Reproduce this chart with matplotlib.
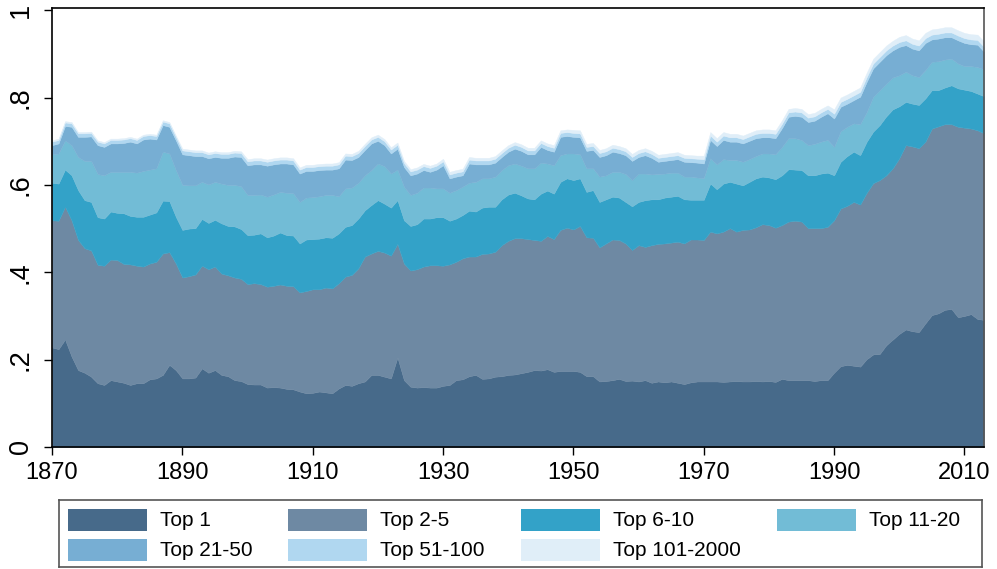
import numpy as np
import matplotlib
matplotlib.use("Agg")
from matplotlib import pyplot as plt
from matplotlib.patches import Rectangle

plt.rcParams['font.family'] = ['Liberation Sans', 'DejaVu Sans']

years = np.arange(1870, 2014)

# cumulative shares (top N)
top1 = [
    0.228, 0.224, 0.246, 0.207, 0.176, 0.170, 0.161, 0.146, 0.142, 0.153,
    0.150, 0.147, 0.142, 0.146, 0.146, 0.155, 0.157, 0.165, 0.188, 0.176,
    0.157, 0.157, 0.159, 0.180, 0.170, 0.176, 0.165, 0.162, 0.153, 0.151,
    0.144, 0.143, 0.143, 0.136, 0.137, 0.136, 0.133, 0.132, 0.127, 0.123,
    0.124, 0.127, 0.125, 0.123, 0.134, 0.142, 0.140, 0.146, 0.150, 0.165,
    0.165, 0.161, 0.157, 0.205, 0.153, 0.138, 0.136, 0.137, 0.136, 0.136,
    0.140, 0.142, 0.153, 0.155, 0.162, 0.165, 0.156, 0.157, 0.161, 0.162,
    0.165, 0.166, 0.169, 0.172, 0.176, 0.175, 0.178, 0.172, 0.174, 0.174,
    0.174, 0.172, 0.162, 0.162, 0.150, 0.151, 0.153, 0.156, 0.151, 0.152,
    0.150, 0.153, 0.147, 0.150, 0.148, 0.150, 0.147, 0.144, 0.148, 0.150,
    0.150, 0.150, 0.150, 0.149, 0.150, 0.151, 0.150, 0.150, 0.151, 0.150,
    0.151, 0.149, 0.156, 0.153, 0.153, 0.153, 0.153, 0.151, 0.153, 0.153,
    0.170, 0.185, 0.188, 0.186, 0.184, 0.201, 0.212, 0.213, 0.233, 0.246,
    0.259, 0.269, 0.265, 0.263, 0.283, 0.302, 0.306, 0.314, 0.316, 0.297,
    0.300, 0.304, 0.293, 0.291]

top5 = [
    0.519, 0.518, 0.550, 0.519, 0.474, 0.455, 0.450, 0.417, 0.415, 0.429,
    0.428, 0.419, 0.418, 0.415, 0.413, 0.420, 0.424, 0.443, 0.446, 0.420,
    0.388, 0.391, 0.395, 0.415, 0.407, 0.413, 0.397, 0.393, 0.388, 0.385,
    0.373, 0.375, 0.373, 0.367, 0.369, 0.372, 0.369, 0.368, 0.354, 0.357,
    0.361, 0.361, 0.365, 0.363, 0.375, 0.390, 0.394, 0.409, 0.436, 0.443,
    0.449, 0.445, 0.438, 0.465, 0.420, 0.404, 0.407, 0.413, 0.416, 0.416,
    0.415, 0.418, 0.424, 0.432, 0.436, 0.436, 0.442, 0.443, 0.447, 0.462,
    0.472, 0.478, 0.478, 0.476, 0.474, 0.472, 0.483, 0.476, 0.497, 0.502,
    0.498, 0.506, 0.480, 0.479, 0.457, 0.466, 0.475, 0.474, 0.466, 0.451,
    0.462, 0.458, 0.462, 0.465, 0.466, 0.468, 0.470, 0.466, 0.475, 0.475,
    0.474, 0.493, 0.489, 0.493, 0.501, 0.493, 0.497, 0.498, 0.503, 0.510,
    0.508, 0.502, 0.508, 0.516, 0.518, 0.516, 0.501, 0.501, 0.501, 0.504,
    0.519, 0.546, 0.552, 0.561, 0.555, 0.582, 0.604, 0.611, 0.622, 0.638,
    0.661, 0.691, 0.688, 0.684, 0.699, 0.729, 0.734, 0.739, 0.739, 0.733,
    0.731, 0.729, 0.725, 0.718]

top10 = [
    0.605, 0.603, 0.635, 0.622, 0.588, 0.565, 0.561, 0.526, 0.523, 0.539,
    0.536, 0.535, 0.529, 0.527, 0.527, 0.532, 0.537, 0.564, 0.563, 0.527,
    0.497, 0.500, 0.501, 0.522, 0.513, 0.520, 0.512, 0.506, 0.505, 0.499,
    0.485, 0.486, 0.489, 0.480, 0.484, 0.491, 0.485, 0.484, 0.466, 0.475,
    0.476, 0.477, 0.480, 0.479, 0.489, 0.504, 0.508, 0.523, 0.542, 0.554,
    0.565, 0.557, 0.548, 0.565, 0.519, 0.506, 0.510, 0.523, 0.523, 0.526,
    0.526, 0.518, 0.523, 0.531, 0.541, 0.539, 0.548, 0.550, 0.550, 0.567,
    0.578, 0.582, 0.576, 0.569, 0.567, 0.580, 0.587, 0.580, 0.607, 0.615,
    0.611, 0.615, 0.584, 0.588, 0.561, 0.567, 0.573, 0.571, 0.561, 0.551,
    0.561, 0.565, 0.567, 0.567, 0.571, 0.573, 0.575, 0.567, 0.566, 0.566,
    0.566, 0.603, 0.590, 0.603, 0.607, 0.603, 0.599, 0.607, 0.615, 0.619,
    0.617, 0.613, 0.622, 0.636, 0.635, 0.634, 0.622, 0.622, 0.626, 0.628,
    0.622, 0.653, 0.666, 0.676, 0.668, 0.699, 0.722, 0.737, 0.757, 0.773,
    0.780, 0.790, 0.786, 0.783, 0.798, 0.817, 0.817, 0.823, 0.828, 0.821,
    0.818, 0.815, 0.809, 0.803]

top20 = [
    0.670, 0.672, 0.702, 0.691, 0.664, 0.655, 0.655, 0.625, 0.622, 0.630,
    0.630, 0.630, 0.630, 0.628, 0.632, 0.635, 0.638, 0.676, 0.672, 0.634,
    0.600, 0.599, 0.599, 0.607, 0.601, 0.607, 0.603, 0.600, 0.600, 0.597,
    0.577, 0.577, 0.578, 0.573, 0.578, 0.584, 0.582, 0.581, 0.561, 0.571,
    0.572, 0.574, 0.577, 0.577, 0.574, 0.592, 0.594, 0.605, 0.622, 0.634,
    0.649, 0.643, 0.626, 0.635, 0.596, 0.577, 0.582, 0.594, 0.594, 0.592,
    0.592, 0.582, 0.588, 0.596, 0.605, 0.607, 0.615, 0.615, 0.619, 0.634,
    0.645, 0.649, 0.644, 0.638, 0.638, 0.651, 0.649, 0.645, 0.668, 0.672,
    0.672, 0.670, 0.638, 0.638, 0.619, 0.622, 0.630, 0.630, 0.625, 0.611,
    0.626, 0.626, 0.624, 0.625, 0.626, 0.628, 0.628, 0.619, 0.619, 0.617,
    0.616, 0.661, 0.647, 0.659, 0.657, 0.657, 0.653, 0.659, 0.666, 0.672,
    0.672, 0.670, 0.687, 0.707, 0.707, 0.703, 0.691, 0.694, 0.699, 0.703,
    0.687, 0.723, 0.733, 0.741, 0.739, 0.767, 0.802, 0.817, 0.832, 0.846,
    0.851, 0.859, 0.851, 0.847, 0.863, 0.882, 0.883, 0.887, 0.889, 0.878,
    0.872, 0.872, 0.870, 0.864]

top50 = [
    0.691, 0.695, 0.735, 0.733, 0.710, 0.710, 0.711, 0.691, 0.687, 0.695,
    0.695, 0.696, 0.699, 0.695, 0.704, 0.706, 0.704, 0.737, 0.733, 0.702,
    0.670, 0.668, 0.666, 0.666, 0.661, 0.664, 0.662, 0.662, 0.665, 0.664,
    0.645, 0.647, 0.647, 0.644, 0.647, 0.649, 0.649, 0.647, 0.626, 0.632,
    0.632, 0.634, 0.635, 0.635, 0.638, 0.658, 0.657, 0.664, 0.680, 0.695,
    0.701, 0.691, 0.672, 0.683, 0.641, 0.622, 0.626, 0.634, 0.630, 0.635,
    0.645, 0.615, 0.619, 0.622, 0.649, 0.647, 0.647, 0.647, 0.651, 0.664,
    0.676, 0.683, 0.678, 0.670, 0.670, 0.687, 0.680, 0.676, 0.710, 0.712,
    0.710, 0.709, 0.678, 0.680, 0.664, 0.668, 0.676, 0.673, 0.668, 0.655,
    0.664, 0.668, 0.662, 0.653, 0.655, 0.657, 0.659, 0.653, 0.652, 0.651,
    0.649, 0.703, 0.689, 0.703, 0.699, 0.699, 0.695, 0.701, 0.707, 0.709,
    0.709, 0.707, 0.730, 0.756, 0.758, 0.756, 0.744, 0.747, 0.756, 0.764,
    0.752, 0.779, 0.786, 0.794, 0.802, 0.836, 0.867, 0.882, 0.897, 0.908,
    0.916, 0.920, 0.912, 0.908, 0.925, 0.933, 0.935, 0.938, 0.938, 0.931,
    0.925, 0.922, 0.921, 0.905]

# thin top layers (shares of groups 51-100 and 101-2000)
share_51_100 = [
    0.008, 0.008, 0.008, 0.008, 0.008, 0.008, 0.008, 0.008, 0.008, 0.008,
    0.008, 0.008, 0.008, 0.008, 0.008, 0.008, 0.008, 0.008, 0.008, 0.008,
    0.009, 0.009, 0.009, 0.009, 0.009, 0.009, 0.009, 0.009, 0.009, 0.009,
    0.009, 0.009, 0.009, 0.009, 0.009, 0.009, 0.009, 0.009, 0.009, 0.009,
    0.009, 0.009, 0.009, 0.009, 0.009, 0.009, 0.009, 0.009, 0.009, 0.009,
    0.009, 0.009, 0.009, 0.009, 0.009, 0.009, 0.009, 0.009, 0.009, 0.009,
    0.009, 0.009, 0.009, 0.009, 0.009, 0.009, 0.009, 0.009, 0.009, 0.009,
    0.009, 0.009, 0.009, 0.009, 0.009, 0.009, 0.009, 0.009, 0.009, 0.009,
    0.009, 0.009, 0.009, 0.009, 0.009, 0.009, 0.009, 0.009, 0.009, 0.009,
    0.009, 0.009, 0.009, 0.009, 0.009, 0.009, 0.009, 0.009, 0.009, 0.009,
    0.010, 0.010, 0.010, 0.010, 0.010, 0.010, 0.010, 0.010, 0.010, 0.010,
    0.010, 0.010, 0.010, 0.010, 0.010, 0.010, 0.010, 0.010, 0.010, 0.010,
    0.011, 0.011, 0.011, 0.011, 0.011, 0.011, 0.011, 0.011, 0.011, 0.011,
    0.011, 0.011, 0.011, 0.011, 0.011, 0.011, 0.011, 0.011, 0.011, 0.011,
    0.011, 0.011, 0.011, 0.011]

share_101_2000 = [
    0.003, 0.003, 0.003, 0.003, 0.003, 0.003, 0.003, 0.003, 0.003, 0.003,
    0.003, 0.003, 0.003, 0.003, 0.003, 0.003, 0.003, 0.003, 0.003, 0.003,
    0.004, 0.004, 0.004, 0.004, 0.004, 0.004, 0.004, 0.004, 0.004, 0.004,
    0.005, 0.005, 0.005, 0.005, 0.005, 0.005, 0.005, 0.005, 0.005, 0.005,
    0.005, 0.005, 0.005, 0.005, 0.005, 0.005, 0.005, 0.005, 0.005, 0.005,
    0.005, 0.005, 0.005, 0.005, 0.005, 0.005, 0.005, 0.005, 0.005, 0.005,
    0.006, 0.006, 0.006, 0.006, 0.006, 0.006, 0.006, 0.006, 0.006, 0.006,
    0.006, 0.006, 0.006, 0.006, 0.006, 0.006, 0.006, 0.006, 0.006, 0.006,
    0.007, 0.007, 0.007, 0.007, 0.007, 0.007, 0.007, 0.007, 0.007, 0.007,
    0.007, 0.007, 0.007, 0.007, 0.007, 0.007, 0.007, 0.007, 0.007, 0.007,
    0.008, 0.008, 0.008, 0.008, 0.008, 0.008, 0.008, 0.008, 0.008, 0.008,
    0.008, 0.008, 0.008, 0.008, 0.008, 0.008, 0.008, 0.008, 0.008, 0.008,
    0.010, 0.010, 0.010, 0.010, 0.010, 0.010, 0.011, 0.011, 0.011, 0.011,
    0.012, 0.012, 0.012, 0.012, 0.012, 0.012, 0.012, 0.012, 0.012, 0.012,
    0.012, 0.012, 0.012, 0.012]

labels = ["Top 1", "Top 2-5", "Top 6-10", "Top 11-20",
          "Top 21-50", "Top 51-100", "Top 101-2000"]
colors = ["#476a8a", "#6e89a3", "#33a2c8", "#72bcd6",
          "#77aed3", "#b0d7f0", "#e0eef8"]

cum = [np.array(top1), np.array(top5), np.array(top10),
       np.array(top20), np.array(top50)]
layers = [cum[0]] + [cum[i] - cum[i - 1] for i in range(1, 5)]
layers += [np.array(share_51_100), np.array(share_101_2000)]

fig = plt.figure(figsize=(9.97, 5.69), dpi=100)
ax = fig.add_axes([52 / 997, 1 - 447 / 569, (984 - 52) / 997, (447 - 8) / 569])

ax.stackplot(years, layers, colors=colors, labels=labels,
             linewidth=0.3, edgecolor="face")

ax.set_xlim(1870, 2013)
ax.set_ylim(0, 1.005)
ax.set_xticks(range(1870, 2011, 20))
ax.set_yticks([0, 0.2, 0.4, 0.6, 0.8, 1.0])
ax.set_yticklabels(["0", ".2", ".4", ".6", ".8", "1"], rotation=90, va="center")
ax.tick_params(axis="both", length=6, width=1, direction="out")
ax.tick_params(axis="x", labelsize=17, pad=5)
ax.tick_params(axis="y", labelsize=19.5, pad=7)
for s in ax.spines.values():
    s.set_linewidth(1.2)
    s.set_color("black")
ax.spines["right"].set_color("#555555")

# legend box drawn below the plot
lax = fig.add_axes([59 / 997, 1 - 567 / 569, (982 - 59) / 997, (567 - 500) / 569])
lax.set_xlim(59, 982)
lax.set_ylim(567, 500)
lax.set_xticks([])
lax.set_yticks([])
for s in lax.spines.values():
    s.set_color("#555555")
    s.set_linewidth(1.2)
col_x = [68, 288, 521, 777]
row_y = [509, 539]
for i, (lab, c) in enumerate(zip(labels, colors)):
    r, k = divmod(i, 4)
    lax.add_patch(Rectangle((col_x[k], row_y[r]), 79, 22, facecolor=c, edgecolor="none"))
    lax.text(col_x[k] + 92, row_y[r] + 11, lab, fontsize=15, va="center", ha="left")

fig.savefig("out.png", dpi=100)
